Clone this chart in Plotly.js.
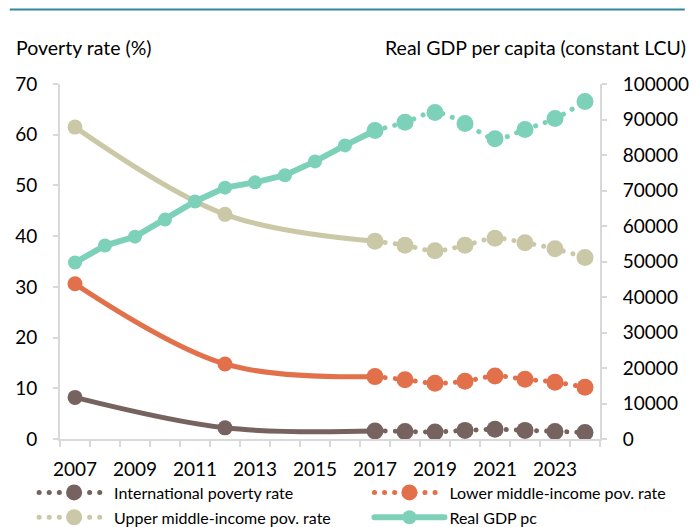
<!DOCTYPE html>
<html>
<head>
<meta charset="utf-8">
<script src="https://cdn.plot.ly/plotly-3.0.1.min.js"></script>
<style>
  html, body { margin: 0; padding: 0; background: #fff; }
  #chart { width: 700px; height: 527px; }
  .js-line { stroke-linecap: round; }
</style>
</head>
<body>
<div id="chart"></div>
<script>
// ---- Data ----
const yearsHist = [2007, 2012, 2017];
const yearsProj = [2017, 2018, 2019, 2020, 2021, 2022, 2023, 2024];
const gdpYearsHist = [2007, 2008, 2009, 2010, 2011, 2012, 2013, 2014, 2015, 2016, 2017];

const intlHist = [8.2, 2.2, 1.6];
const intlProj = [1.6, 1.5, 1.4, 1.7, 1.9, 1.7, 1.5, 1.3];
const lmiHist = [30.6, 14.8, 12.3];
const lmiProj = [12.3, 11.7, 11.0, 11.4, 12.4, 11.8, 11.2, 10.2];
const umiHist = [61.5, 44.3, 39.0];
const umiProj = [39.0, 38.2, 37.1, 38.2, 39.6, 38.7, 37.5, 35.8];
const gdpHist = [49700, 54500, 57000, 61800, 66900, 70800, 72300, 74300, 78200, 82700, 86900];
const gdpProj = [86900, 89200, 92000, 88900, 84600, 87200, 90300, 95100];

const xTickYears = [2007, 2009, 2011, 2013, 2015, 2017, 2019, 2021, 2023];
const leftTicks = [0, 10, 20, 30, 40, 50, 60, 70];
const rightTicks = [0, 10000, 20000, 30000, 40000, 50000, 60000, 70000, 80000, 90000, 100000];

const names = {
  intl: 'International poverty rate',
  lmi: 'Lower middle-income pov. rate',
  umi: 'Upper middle-income pov. rate',
  gdp: 'Real GDP pc'
};
const colors = { intl: '#76635F', lmi: '#E1704B', umi: '#CBC8A8', gdp: '#7DD1B9' };

const DOT = '0.1px,10px';

function povTraces(key, hist, proj, legendId, group) {
  return [
    { x: yearsHist, y: hist, type: 'scatter', mode: 'lines+markers', name: names[key],
      line: { color: colors[key], width: 5, shape: 'spline' },
      marker: { color: colors[key], size: 15 }, showlegend: false },
    { x: yearsProj, y: proj, type: 'scatter', mode: 'lines+markers', name: names[key],
      line: { color: colors[key], width: 5, shape: 'spline', dash: DOT },
      marker: { color: colors[key], size: 17 }, legend: legendId, legendgroup: group }
  ];
}

const data = [
  ...povTraces('intl', intlHist, intlProj, 'legend', 'a'),
  ...povTraces('umi', umiHist, umiProj, 'legend', 'b'),
  ...povTraces('lmi', lmiHist, lmiProj, 'legend2', 'c'),
  { x: gdpYearsHist, y: gdpHist, type: 'scatter', mode: 'lines+markers', name: names.gdp, yaxis: 'y2',
    line: { color: colors.gdp, width: 6 }, marker: { color: colors.gdp, size: 14 },
    legend: 'legend2', legendgroup: 'd' },
  { x: yearsProj, y: gdpProj, type: 'scatter', mode: 'lines+markers', name: names.gdp, yaxis: 'y2',
    line: { color: colors.gdp, width: 5, shape: 'spline', dash: DOT },
    marker: { color: colors.gdp, size: 17 }, showlegend: false }
];

const FONT = 'Lato, "Open Sans", sans-serif';
const axisColor = '#D9D9D9';
const legendBase = {
  orientation: 'v', xanchor: 'left', y: -0.103, yanchor: 'top',
  font: { family: FONT, size: 16, color: '#000' }, itemwidth: 70,
  traceorder: 'grouped', tracegroupgap: 1, bgcolor: 'rgba(0,0,0,0)', borderwidth: 0
};

const layout = {
  width: 700, height: 527,
  margin: { l: 60, r: 100, t: 84, b: 88, autoexpand: false },
  paper_bgcolor: '#fff', plot_bgcolor: '#fff',
  font: { family: FONT, size: 19, color: '#000' },
  showlegend: true,
  xaxis: {
    range: [2006.5, 2024.5], tickmode: 'array', tickvals: xTickYears, ticktext: xTickYears.map(String),
    ticks: '', showgrid: false, zeroline: false, showline: true, linecolor: axisColor, linewidth: 2,
    ticklabelstandoff: 12,
    minor: { tick0: 2006.5, dtick: 1, ticks: 'outside', ticklen: 6, tickwidth: 2, tickcolor: axisColor, showgrid: false },
    fixedrange: true
  },
  yaxis: {
    range: [0, 70], tickmode: 'array', tickvals: leftTicks, ticks: 'outside', ticklen: 5, tickwidth: 2,
    tickcolor: axisColor, showline: true, linecolor: axisColor, linewidth: 2, showgrid: false, zeroline: false,
    ticklabelstandoff: 12, fixedrange: true
  },
  yaxis2: {
    range: [0, 100000], overlaying: 'y', side: 'right', tickmode: 'array', tickvals: rightTicks,
    ticktext: rightTicks.map(String),
    ticks: 'outside', ticklen: 5, tickwidth: 2, tickcolor: axisColor, showline: true, linecolor: axisColor,
    linewidth: 2, showgrid: false, zeroline: false, ticklabelstandoff: 12, fixedrange: true
  },
  legend: Object.assign({}, legendBase, { x: -0.048 }),
  legend2: Object.assign({}, legendBase, { x: 0.573 }),
  shapes: [
    { type: 'line', xref: 'paper', yref: 'paper', x0: -0.093, x1: 1.157, y0: 1.21, y1: 1.21,
      line: { color: '#34879A', width: 2 } }
  ],
  annotations: [
    { text: 'Poverty rate (%)', xref: 'paper', yref: 'paper', x: -0.085, y: 1.103, xanchor: 'left', yanchor: 'middle',
      showarrow: false, font: { family: FONT, size: 19.5, color: '#000' } },
    { text: 'Real GDP per capita (constant LCU)', xref: 'paper', yref: 'paper', x: 1.163, y: 1.103, xanchor: 'right',
      yanchor: 'middle', showarrow: false, font: { family: FONT, size: 19.5, color: '#000' } }
  ]
};

Plotly.newPlot('chart', data, layout, { displayModeBar: false, staticPlot: true });
</script>
</body>
</html>
